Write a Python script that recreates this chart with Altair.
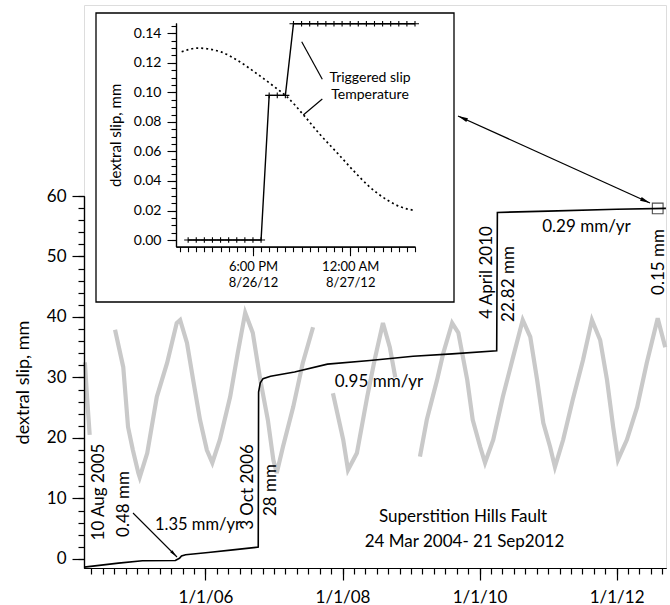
import altair as alt
import pandas as pd

FONT = "Lato"

# ---------------- main record: triggered slip (decimal year, mm) ----------------
slip_year = [2004.23, 2004.73, 2005.08, 2005.56, 2005.62, 2005.65, 2005.71, 2006.04, 2006.40, 2006.77,
             2006.775, 2006.80, 2006.84, 2006.95, 2007.30, 2007.78, 2008.40, 2009.03, 2009.60, 2010.25,
             2010.26, 2011.00, 2012.00, 2012.72]
slip_mm = [-1.35, -0.7, -0.3, -0.25, 0.1, 0.5, 0.7, 1.05, 1.5, 1.95,
           27.6, 29.1, 29.8, 30.2, 30.9, 32.2, 32.8, 33.5, 33.9, 34.4,
           57.28, 57.5, 57.8, 57.95]

# ---------------- temperature record (grey), plotted on the mm scale, in segments ----------------
temp1_year = [2004.24, 2004.27, 2004.31]
temp1_val = [32.5, 27.0, 20.5]
temp2_year = [2004.68, 2004.80, 2004.87, 2004.94, 2005.02, 2005.04, 2005.15, 2005.29, 2005.44, 2005.58,
              2005.63, 2005.73, 2005.82, 2005.92, 2006.02, 2006.10, 2006.21, 2006.36, 2006.47, 2006.58,
              2006.69, 2006.80, 2006.91, 2006.99, 2007.04, 2007.13, 2007.28, 2007.42, 2007.57]
temp2_val = [37.9, 31.7, 21.8, 18.0, 14.2, 13.5, 17.5, 26.8, 32.4, 39.0,
             39.5, 35.7, 29.6, 23.0, 18.0, 15.9, 19.7, 26.8, 34.0, 40.7,
             37.4, 29.6, 23.0, 16.4, 14.2, 18.5, 25.1, 32.4, 38.3]
temp3_year = [2007.86, 2008.01, 2008.08, 2008.21, 2008.36, 2008.47, 2008.59, 2008.69, 2008.77]
temp3_val = [27.4, 19.7, 14.7, 17.5, 26.8, 33.0, 39.0, 35.0, 30.0]
temp4_year = [2009.13, 2009.23, 2009.38, 2009.47, 2009.60, 2009.69, 2009.82, 2009.90, 2010.01, 2010.08,
              2010.20, 2010.34, 2010.49, 2010.63, 2010.74, 2010.84, 2010.93, 2011.03, 2011.10, 2011.22,
              2011.36, 2011.51, 2011.64, 2011.76, 2011.86, 2011.95, 2012.02, 2012.15, 2012.30, 2012.44,
              2012.60, 2012.71]
temp4_val = [16.9, 23.0, 29.6, 34.0, 39.0, 37.4, 29.6, 23.0, 18.5, 15.9,
             19.7, 26.8, 33.4, 39.5, 36.7, 29.6, 22.5, 18.5, 15.2, 19.7,
             26.3, 32.9, 39.5, 36.2, 29.6, 21.8, 16.4, 19.7, 25.1, 32.4,
             39.8, 35.0]

# zoom box location (decimal year, mm)
box_year = [2012.60]
box_mm = [57.94]

# ---------------- inset: 26-27 Aug 2012 (hours after midnight 8/26) ----------------
inset_hour = [14.0, 14.5, 15.0, 15.5, 16.0, 16.5, 17.0, 17.5, 18.0, 18.5,
              19.0, 19.5, 20.0,
              20.5, 21.0, 21.5, 22.0, 22.5, 23.0, 23.5, 24.0, 24.5, 25.0, 25.5, 26.0, 26.5, 27.0, 27.5, 28.0]
inset_slip = [0.0] * 10 + [0.098] * 3 + [0.1465] * 16
inset_temp_hour = [13.6, 14.6, 16.0, 17.0, 18.2, 19.3, 20.1, 21.1, 22.1, 23.2, 24.2, 25.2, 26.3, 27.1, 28.0]
inset_temp_val = [0.1275, 0.130, 0.1275, 0.122, 0.113, 0.104, 0.097, 0.085, 0.072, 0.059,
                  0.047, 0.036, 0.027, 0.0225, 0.020]

# axis tick positions
main_x_major = [2006, 2008, 2010, 2012]
main_x_minor = [round(2004 + m / 12, 4) for m in range(4, 105, 2)]
main_y_major = list(range(0, 61, 10))
main_y_minor = list(range(0, 61, 2))
in_x_major = [18, 24]
in_x_minor = [13.5 + 0.5 * k for k in range(30)]
in_y_major = [round(0.02 * k, 2) for k in range(8)]
in_y_minor = [round(0.005 * k, 3) for k in range(30)]

# ---------------- tables ----------------
slip_df = pd.DataFrame({"year": slip_year, "mm": slip_mm, "i": range(len(slip_year))})
temp_rows = []
for seg, (ys, vs) in enumerate([(temp1_year, temp1_val), (temp2_year, temp2_val),
                                (temp3_year, temp3_val), (temp4_year, temp4_val)]):
    for y, v in zip(ys, vs):
        temp_rows.append({"year": y, "mm": v, "seg": seg})
temp_df = pd.DataFrame(temp_rows)
box_df = pd.DataFrame({"year": box_year, "mm": box_mm})
in_slip_df = pd.DataFrame({"hour": inset_hour, "mm": inset_slip})
in_temp_df = pd.DataFrame({"hour": inset_temp_hour, "mm": inset_temp_val})

W, H = 582, 563

def xs_main():
    return alt.Scale(domain=[2004.227, 2012.721], range=[0, W], nice=False, zero=False)

def ys_main():
    return alt.Scale(domain=[-1.5, 60], range=[563, 191], nice=False, zero=False)

def xs_in():
    return alt.Scale(domain=[13.25, 28.0], range=[92, 331], nice=False, zero=False)

def ys_in():
    return alt.Scale(domain=[-0.0045, 0.147], range=[241.7, 18], nice=False, zero=False)

common = dict(grid=False, labelOverlap=False, labelFlush=False, labelColor="black",
              domainColor="black", tickColor="black", domainWidth=1.2, zindex=1)

main_x_axis_major = alt.Axis(
    orient="bottom", values=main_x_major, title=None, tickSize=12, tickWidth=1.2,
    labelExpr="'1/1/' + slice(toString(datum.value), 2)",
    labelFont=FONT, labelFontSize=17, labelPadding=9, **common)
main_x_axis_minor = alt.Axis(
    orient="bottom", values=main_x_minor, title=None, tickSize=6, tickWidth=1.2, labels=False, **common)
main_y_axis_major = alt.Axis(
    orient="left", values=main_y_major, title="dextral slip, mm", tickSize=12, tickWidth=1.2, format="d",
    labelFont=FONT, labelFontSize=17, labelPadding=6,
    titleFont=FONT, titleFontSize=18, titleFontWeight="normal", titleColor="black", titlePadding=14,
    **common)
main_y_axis_minor = alt.Axis(
    orient="left", values=main_y_minor, title=None, tickSize=6, tickWidth=1.2, labels=False, **common)

in_x_axis_major = alt.Axis(
    orient="bottom", offset=-(H - 241.7), values=in_x_major, title=None, tickSize=9, tickWidth=1.1,
    labelExpr="datum.value == 18 ? ['6:00 PM', '8/26/12'] : ['12:00 AM', '8/27/12']",
    labelFont=FONT, labelFontSize=13, labelLineHeight=16, labelPadding=5, **common)
in_x_axis_minor = alt.Axis(
    orient="bottom", offset=-(H - 241.7), values=in_x_minor, title=None, tickSize=5, tickWidth=1.1,
    labels=False, **common)
in_y_axis_major = alt.Axis(
    orient="left", offset=-92, values=in_y_major, title="dextral slip, mm", tickSize=9, tickWidth=1.1,
    format=".2f", labelFont=FONT, labelFontSize=14, labelPadding=6,
    titleFont=FONT, titleFontSize=15, titleFontWeight="normal", titleColor="black", titlePadding=10,
    **common)
in_y_axis_minor = alt.Axis(
    orient="left", offset=-92, values=in_y_minor, title=None, tickSize=5, tickWidth=1.1,
    labels=False, **common)

# ---------------- main layers ----------------
temp_layer = alt.Chart(temp_df).mark_line(color="#c9c9c9", strokeWidth=4.2).encode(
    x=alt.X("year:Q", scale=xs_main(), axis=main_x_axis_major),
    y=alt.Y("mm:Q", scale=ys_main(), axis=main_y_axis_major),
    detail="seg:N",
)
slip_layer = alt.Chart(slip_df).mark_line(color="black", strokeWidth=1.6).encode(
    x=alt.X("year:Q", scale=xs_main(), axis=main_x_axis_minor),
    y=alt.Y("mm:Q", scale=ys_main(), axis=main_y_axis_minor),
    order="i:Q",
)
box_layer = alt.Chart(box_df).mark_square(filled=False, size=115, color="black", strokeWidth=1.1).encode(
    x=alt.X("year:Q", scale=xs_main(), axis=None),
    y=alt.Y("mm:Q", scale=ys_main(), axis=None),
)

# ---------------- inset layers ----------------
in_temp_layer = alt.Chart(in_temp_df).mark_line(
    color="black", strokeWidth=1.7, strokeDash=[2, 3], interpolate="monotone"
).encode(
    x=alt.X("hour:Q", scale=xs_in(), axis=in_x_axis_major),
    y=alt.Y("mm:Q", scale=ys_in(), axis=in_y_axis_major),
)
in_slip_line = alt.Chart(in_slip_df).mark_line(color="black", strokeWidth=1.4).encode(
    x=alt.X("hour:Q", scale=xs_in(), axis=in_x_axis_minor),
    y=alt.Y("mm:Q", scale=ys_in(), axis=in_y_axis_minor),
)
in_slip_pts = alt.Chart(in_slip_df).mark_point(
    shape="M-1,0L1,0M0,-0.7L0,0.7", filled=False, size=64, color="black", strokeWidth=1.1, opacity=1
).encode(
    x=alt.X("hour:Q", scale=xs_in(), axis=None),
    y=alt.Y("mm:Q", scale=ys_in(), axis=None),
)

one = pd.DataFrame({"k": [0]})


def text(s, x, y, angle=0, size=17):
    return alt.Chart(one).mark_text(
        text=s, angle=angle, font=FONT, fontSize=size, align="center", baseline="middle", color="black"
    ).encode(x=alt.value(x), y=alt.value(y))


def rule(x, y, x2, y2, w=1.3):
    return alt.Chart(one).mark_rule(color="black", strokeWidth=w).encode(
        x=alt.value(x), y=alt.value(y), x2=alt.value(x2), y2=alt.value(y2)
    )


def head(x, y, angle, size=100):
    return alt.Chart(one).mark_point(
        shape="M0,-1L-0.4,1L0.4,1Z", filled=True, size=size, angle=angle, color="black", opacity=1
    ).encode(x=alt.value(x), y=alt.value(y))


frame = alt.Chart(one).mark_rect(fillOpacity=0, stroke="black", strokeWidth=1.3).encode(
    x=alt.value(12), x2=alt.value(370), y=alt.value(8), y2=alt.value(297)
)

annotations = [
    frame,
    rule(374, 111, 566, 198),
    head(378.6, 113.1, 294.4),
    head(561.4, 195.9, 114.4),
    rule(49, 508, 93, 552, 1.1),
    head(90, 549, 135, 60),
    rule(217.7, 36.7, 238.3, 74.3, 1.2),
    rule(219.3, 110, 238.3, 94, 1.2),
    text("Triggered slip", 286, 72.5, size=14),
    text("Temperature", 286, 90, size=14),
    text("10 Aug 2005", 15, 487, 270),
    text("0.48 mm", 39.5, 499, 270),
    text("1.35 mm/yr", 114, 520, size=16.5),
    text("3 Oct 2006", 163.5, 482, 270),
    text("28 mm", 186.5, 485, 270),
    text("0.95 mm/yr", 295, 377),
    text("4  April 2010", 402.5, 267.5, 270),
    text("22.82 mm", 425, 279, 270),
    text("0.29 mm/yr", 502.5, 221.5),
    text("0.15 mm", 574.5, 257, 270),
    text("Superstition Hills Fault", 379, 511.5),
    text("24 Mar 2004- 21 Sep2012", 380.5, 537),
]

chart = alt.layer(
    temp_layer, slip_layer, box_layer, in_temp_layer, in_slip_line, in_slip_pts, *annotations
).resolve_scale(
    x="independent", y="independent"
).resolve_axis(
    x="independent", y="independent"
).properties(
    width=W, height=H,
    padding={"left": 84, "top": 5, "right": 4, "bottom": 37},
    autosize=alt.AutoSizeParams(type="none"),
).configure_view(strokeWidth=0).configure(background="white")

chart.save("out.html", embed_options={"renderer": "svg", "actions": False})
